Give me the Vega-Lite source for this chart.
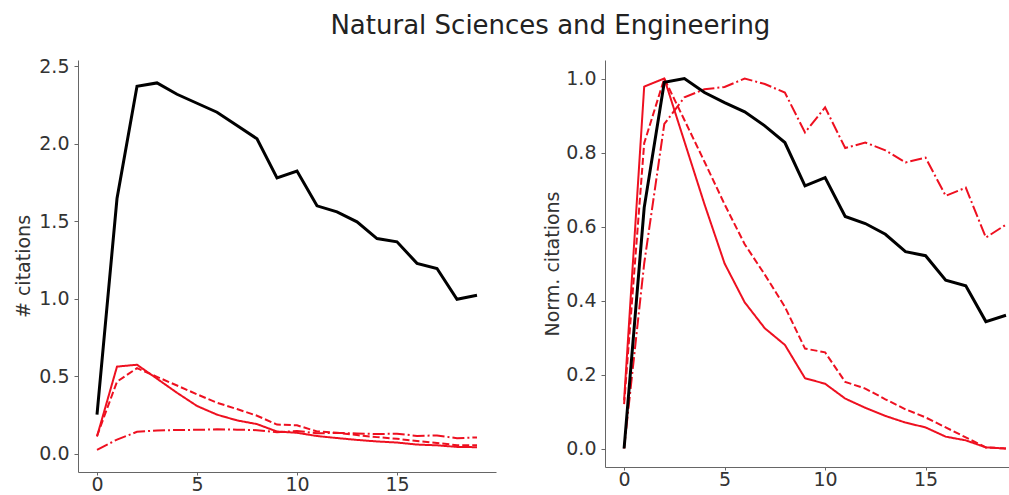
{
  "$schema": "https://vega.github.io/schema/vega-lite/v6.json",
  "padding": {"left": 14, "top": 12, "right": 0, "bottom": 0},
  "background": "white",
  "title": {"text": "Natural Sciences and Engineering", "font": "DejaVu Sans", "fontSize": 26, "fontWeight": "normal", "color": "#222222", "anchor": "middle", "dx": 37, "offset": 18.5},
  "config": {
    "view": {"stroke": null},
    "axis": {"grid": false, "domainColor": "#666666", "tickColor": "#666666", "tickSize": 4, "labelFont": "DejaVu Sans", "labelFontSize": 19, "labelColor": "#333333", "labelPadding": 5, "titleFont": "DejaVu Sans", "titleFontSize": 19, "titleFontWeight": "normal", "titleColor": "#333333", "titlePadding": 3},
    "axisX": {"tickSize": 3, "labelPadding": 0}
  },
  "data": {"values": [
    {"t":0,"s":"A","c":0.253,"n":0},{"t":1,"s":"A","c":1.647,"n":0.651},{"t":2,"s":"A","c":2.371,"n":0.99},{"t":3,"s":"A","c":2.393,"n":1.0},{"t":4,"s":"A","c":2.32,"n":0.962},{"t":5,"s":"A","c":2.262,"n":0.935},{"t":6,"s":"A","c":2.204,"n":0.91},{"t":7,"s":"A","c":2.118,"n":0.872},{"t":8,"s":"A","c":2.033,"n":0.827},{"t":9,"s":"A","c":1.78,"n":0.71},{"t":10,"s":"A","c":1.825,"n":0.732},{"t":11,"s":"A","c":1.6,"n":0.627},{"t":12,"s":"A","c":1.561,"n":0.608},{"t":13,"s":"A","c":1.497,"n":0.579},{"t":14,"s":"A","c":1.389,"n":0.532},{"t":15,"s":"A","c":1.368,"n":0.521},{"t":16,"s":"A","c":1.229,"n":0.455},{"t":17,"s":"A","c":1.196,"n":0.44},{"t":18,"s":"A","c":0.997,"n":0.343},{"t":19,"s":"A","c":1.023,"n":0.36},
    {"t":0,"s":"B","c":0.112,"n":0.13},{"t":1,"s":"B","c":0.563,"n":0.978},{"t":2,"s":"B","c":0.575,"n":1.0},{"t":3,"s":"B","c":0.485,"n":0.83},{"t":4,"s":"B","c":0.394,"n":0.66},{"t":5,"s":"B","c":0.309,"n":0.5},{"t":6,"s":"B","c":0.253,"n":0.395},{"t":7,"s":"B","c":0.216,"n":0.325},{"t":8,"s":"B","c":0.192,"n":0.28},{"t":9,"s":"B","c":0.144,"n":0.19},{"t":10,"s":"B","c":0.136,"n":0.175},{"t":11,"s":"B","c":0.115,"n":0.135},{"t":12,"s":"B","c":0.102,"n":0.11},{"t":13,"s":"B","c":0.09,"n":0.088},{"t":14,"s":"B","c":0.08,"n":0.07},{"t":15,"s":"B","c":0.073,"n":0.057},{"t":16,"s":"B","c":0.06,"n":0.032},{"t":17,"s":"B","c":0.055,"n":0.022},{"t":18,"s":"B","c":0.045,"n":0.003},{"t":19,"s":"B","c":0.043,"n":0.0},
    {"t":0,"s":"C","c":0.115,"n":0.12},{"t":1,"s":"C","c":0.466,"n":0.825},{"t":2,"s":"C","c":0.553,"n":1.0},{"t":3,"s":"C","c":0.497,"n":0.888},{"t":4,"s":"C","c":0.441,"n":0.775},{"t":5,"s":"C","c":0.384,"n":0.66},{"t":6,"s":"C","c":0.33,"n":0.552},{"t":7,"s":"C","c":0.289,"n":0.47},{"t":8,"s":"C","c":0.246,"n":0.383},{"t":9,"s":"C","c":0.189,"n":0.27},{"t":10,"s":"C","c":0.184,"n":0.26},{"t":11,"s":"C","c":0.145,"n":0.18},{"t":12,"s":"C","c":0.136,"n":0.162},{"t":13,"s":"C","c":0.121,"n":0.133},{"t":14,"s":"C","c":0.108,"n":0.106},{"t":15,"s":"C","c":0.097,"n":0.084},{"t":16,"s":"C","c":0.083,"n":0.057},{"t":17,"s":"C","c":0.07,"n":0.03},{"t":18,"s":"C","c":0.056,"n":0.003},{"t":19,"s":"C","c":0.055,"n":0.0},
    {"t":0,"s":"D","c":0.026,"n":0},{"t":1,"s":"D","c":0.092,"n":0.5},{"t":2,"s":"D","c":0.142,"n":0.877},{"t":3,"s":"D","c":0.151,"n":0.949},{"t":4,"s":"D","c":0.154,"n":0.971},{"t":5,"s":"D","c":0.155,"n":0.977},{"t":6,"s":"D","c":0.158,"n":1.0},{"t":7,"s":"D","c":0.156,"n":0.985},{"t":8,"s":"D","c":0.153,"n":0.962},{"t":9,"s":"D","c":0.139,"n":0.854},{"t":10,"s":"D","c":0.148,"n":0.922},{"t":11,"s":"D","c":0.133,"n":0.812},{"t":12,"s":"D","c":0.135,"n":0.827},{"t":13,"s":"D","c":0.132,"n":0.806},{"t":14,"s":"D","c":0.128,"n":0.773},{"t":15,"s":"D","c":0.13,"n":0.786},{"t":16,"s":"D","c":0.116,"n":0.683},{"t":17,"s":"D","c":0.119,"n":0.705},{"t":18,"s":"D","c":0.101,"n":0.57},{"t":19,"s":"D","c":0.106,"n":0.605}
  ]},
  "spacing": 47,
  "hconcat": [
    {
      "width": 418, "height": 412,
      "layer": [
        {
          "transform": [{"filter": "datum.s !== 'A'"}],
          "mark": {"type": "line", "strokeWidth": 2, "color": "#ee1020"},
          "encoding": {
            "x": {"field": "t", "type": "quantitative", "scale": {"domain": [-0.95, 19.95], "nice": false, "zero": false}, "axis": {"values": [0, 5, 10, 15], "title": null}},
            "y": {"field": "c", "type": "quantitative", "scale": {"domain": [-0.117, 2.541], "nice": false, "zero": false}, "axis": {"values": [0, 0.5, 1, 1.5, 2, 2.5], "format": ".1f", "title": "# citations", "titlePadding": 5}},
            "detail": {"field": "s", "type": "nominal"},
            "strokeDash": {"field": "s", "type": "nominal", "scale": {"domain": ["B", "C", "D"], "range": [[1, 0], [7, 3], [12, 3, 2, 3]]}, "legend": null}
          }
        },
        {
          "transform": [{"filter": "datum.s === 'A'"}],
          "mark": {"type": "line", "strokeWidth": 3, "color": "#000000"},
          "encoding": {
            "x": {"field": "t", "type": "quantitative"},
            "y": {"field": "c", "type": "quantitative"}
          }
        }
      ]
    },
    {
      "width": 404, "height": 407,
      "layer": [
        {
          "transform": [{"filter": "datum.s !== 'A'"}],
          "mark": {"type": "line", "strokeWidth": 2, "color": "#ee1020"},
          "encoding": {
            "x": {"field": "t", "type": "quantitative", "scale": {"domain": [-0.95, 19.15], "nice": false, "zero": false}, "axis": {"values": [0, 5, 10, 15], "title": null}},
            "y": {"field": "n", "type": "quantitative", "scale": {"domain": [-0.05, 1.05], "nice": false, "zero": false}, "axis": {"values": [0, 0.2, 0.4, 0.6, 0.8, 1.0], "format": ".1f", "title": "Norm. citations"}},
            "detail": {"field": "s", "type": "nominal"},
            "strokeDash": {"field": "s", "type": "nominal", "scale": {"domain": ["B", "C", "D"], "range": [[1, 0], [7, 3], [12, 3, 2, 3]]}, "legend": null}
          }
        },
        {
          "transform": [{"filter": "datum.s === 'A'"}],
          "mark": {"type": "line", "strokeWidth": 3, "color": "#000000"},
          "encoding": {
            "x": {"field": "t", "type": "quantitative"},
            "y": {"field": "n", "type": "quantitative"}
          }
        }
      ]
    }
  ],
  "resolve": {"scale": {"x": "independent", "y": "independent", "strokeDash": "shared"}}
}
